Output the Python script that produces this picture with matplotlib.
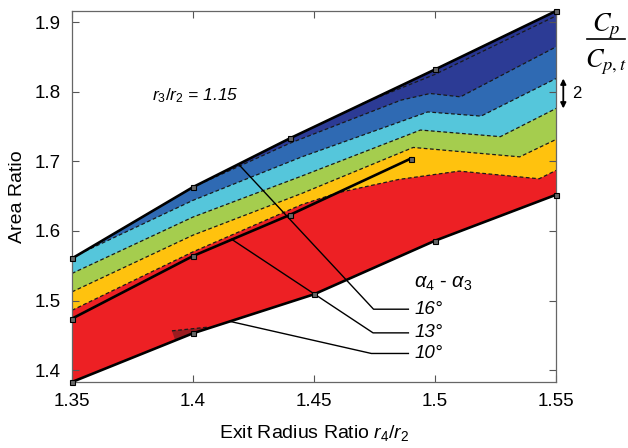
import matplotlib
matplotlib.use("Agg")
import matplotlib.pyplot as plt
from matplotlib.lines import Line2D

plt.rcParams['font.family'] = ['Liberation Sans', 'DejaVu Sans']
plt.rcParams['mathtext.fontset'] = 'custom'
plt.rcParams['mathtext.rm'] = 'Liberation Sans'
plt.rcParams['mathtext.it'] = 'Liberation Sans:italic'

# ---- data ----
# boundary lines (alpha4 - alpha3 = 16, 13, 10 deg)
x_top = [1.35, 1.40, 1.44, 1.50, 1.55]
y_top = [1.5605, 1.663, 1.733, 1.832, 1.916]
x_mid = [1.35, 1.40, 1.44, 1.49]
y_mid = [1.474, 1.564, 1.623, 1.704]
x_bot = [1.35, 1.40, 1.45, 1.50, 1.55]
y_bot = [1.383, 1.453, 1.509, 1.586, 1.652]

# contour boundaries (lower edge of each colour band)
x_F = [1.35, 1.40, 1.445, 1.46, 1.485, 1.51, 1.543, 1.55]
y_F = [1.486, 1.570, 1.638, 1.655, 1.674, 1.686, 1.675, 1.687]
x_E = [1.35, 1.40, 1.445, 1.491, 1.535, 1.55]
y_E = [1.5125, 1.594, 1.654, 1.720, 1.7065, 1.7315]
x_D = [1.35, 1.40, 1.445, 1.494, 1.527, 1.55]
y_D = [1.539, 1.620, 1.679, 1.745, 1.7355, 1.776]
x_C = [1.353, 1.40, 1.445, 1.497, 1.519, 1.55]
y_C = [1.567, 1.644, 1.7065, 1.771, 1.765, 1.819]
x_B = [1.40, 1.44, 1.486, 1.498, 1.5105, 1.55]
y_B = [1.663, 1.726, 1.788, 1.7975, 1.7927, 1.8645]
x_A = [1.47, 1.50, 1.55]
y_A = [1.783, 1.825, 1.909]

# small low-value patch
x_patch = [1.3913, 1.4058, 1.4000, 1.3927]
y_patch = [1.4565, 1.4617, 1.4535, 1.4425]

band_colors = ['#ED2024', '#FFC20E', '#A5CD4E', '#55C6DB', '#2F6AB3', '#2C3B95', '#283590']
patch_color = '#9B1C20'

angle_labels = ['16°', '13°', '10°']
lead_x = [[1.4188, 1.4746, 1.489], [1.416, 1.4744, 1.489], [1.4154, 1.4737, 1.489]]
lead_y = [[1.696, 1.4876, 1.4876], [1.588, 1.4536, 1.4536], [1.470, 1.424, 1.424]]

x_ticks = [1.35, 1.40, 1.45, 1.50, 1.55]
x_ticklabels = ['1.35', '1.4', '1.45', '1.5', '1.55']
y_ticks = [1.4, 1.5, 1.6, 1.7, 1.8, 1.9]
y_ticklabels = ['1.4', '1.5', '1.6', '1.7', '1.8', '1.9']

# ---- figure ----
fig = plt.figure(figsize=(6.28, 4.48), dpi=100)
ax = fig.add_axes([0.1146, 0.1473, 0.7708, 0.8281])


def band(xl, yl, color):
    x0 = xl[0]
    tx = [x for x in x_top if x >= x0]
    ty = [y for x, y in zip(x_top, y_top) if x >= x0]
    px = list(xl) + tx[::-1]
    py = list(yl) + ty[::-1]
    ax.fill(px, py, color=color, lw=0, zorder=1)


band(x_bot, y_bot, band_colors[0])
band(x_F, y_F, band_colors[1])
band(x_E, y_E, band_colors[2])
band(x_D, y_D, band_colors[3])
band(x_C, y_C, band_colors[4])
band(x_B, y_B, band_colors[5])
band(x_A, y_A, band_colors[6])
ax.fill(x_patch, y_patch, color=patch_color, lw=0, zorder=1)

for xs, ys in [(x_F, y_F), (x_E, y_E), (x_D, y_D), (x_C, y_C), (x_B, y_B), (x_A, y_A),
               (x_patch[:2], y_patch[:2])]:
    ax.plot(xs, ys, color='#1a1a1a', lw=0.9, ls=(0, (3, 2)), zorder=2)

for xs, ys in [(x_top, y_top), (x_mid, y_mid), (x_bot, y_bot)]:
    ax.plot(xs, ys, color='black', lw=1.9, marker='s', ms=3.6, mfc='#666666',
            mec='black', mew=0.8, zorder=4, clip_on=False)

for xs, ys, lab in zip(lead_x, lead_y, angle_labels):
    ax.plot(xs, ys, color='black', lw=1.0, zorder=3)
    ax.text(xs[-1] + 0.0025, ys[-1], lab, fontsize=13.5, style='italic',
            ha='left', va='center', zorder=5)

ax.text(1.4915, 1.525, r'$\mathit{\alpha_4}$ - $\mathit{\alpha_3}$', fontsize=14.5,
        ha='left', va='center')
ax.text(1.383, 1.795, r'$\mathit{r_3/r_2}$ = 1.15', fontsize=12.5, style='italic',
        ha='left', va='center')

ax.set_xlim(x_bot[0], x_bot[-1])
ax.set_ylim(y_bot[0], y_top[-1])
ax.set_xticks(x_ticks)
ax.set_xticklabels(x_ticklabels)
ax.set_yticks(y_ticks)
ax.set_yticklabels(y_ticklabels)
ax.tick_params(direction='in', length=5, width=0.8, color='#555555',
               top=True, right=True, labelsize=13.5, pad=8)
for s in ax.spines.values():
    s.set_color('#666666')
    s.set_linewidth(0.9)

ax.set_xlabel(r'Exit Radius Ratio $\mathit{r_4/r_2}$', fontsize=14, labelpad=9)
ax.set_ylabel('Area Ratio', fontsize=14, labelpad=6)

# contour interval arrow and legend title
ax.annotate('', xy=(1.553, y_C[-1]), xytext=(1.553, y_D[-1]),
            xycoords='data', textcoords='data', annotation_clip=False,
            arrowprops=dict(arrowstyle='<|-|>', color='black', lw=1.3,
                            mutation_scale=8, shrinkA=0, shrinkB=0))
ax.text(1.5565, (y_C[-1] + y_D[-1]) / 2, '2', fontsize=12, ha='left', va='center',
        clip_on=False)

fig.text(606 / 628, 1 - 26 / 448, r'$C_p$', fontsize=19, ha='center', va='center',
         math_fontfamily='stix')
fig.text(606 / 628, 1 - 62 / 448, r'$C_{p,t}$', fontsize=19, ha='center', va='center',
         math_fontfamily='stix')
fig.add_artist(Line2D([587 / 628, 625 / 628], [1 - 39 / 448, 1 - 39 / 448],
                      color='black', lw=1.2, transform=fig.transFigure))

fig.savefig('out.png', dpi=100)
